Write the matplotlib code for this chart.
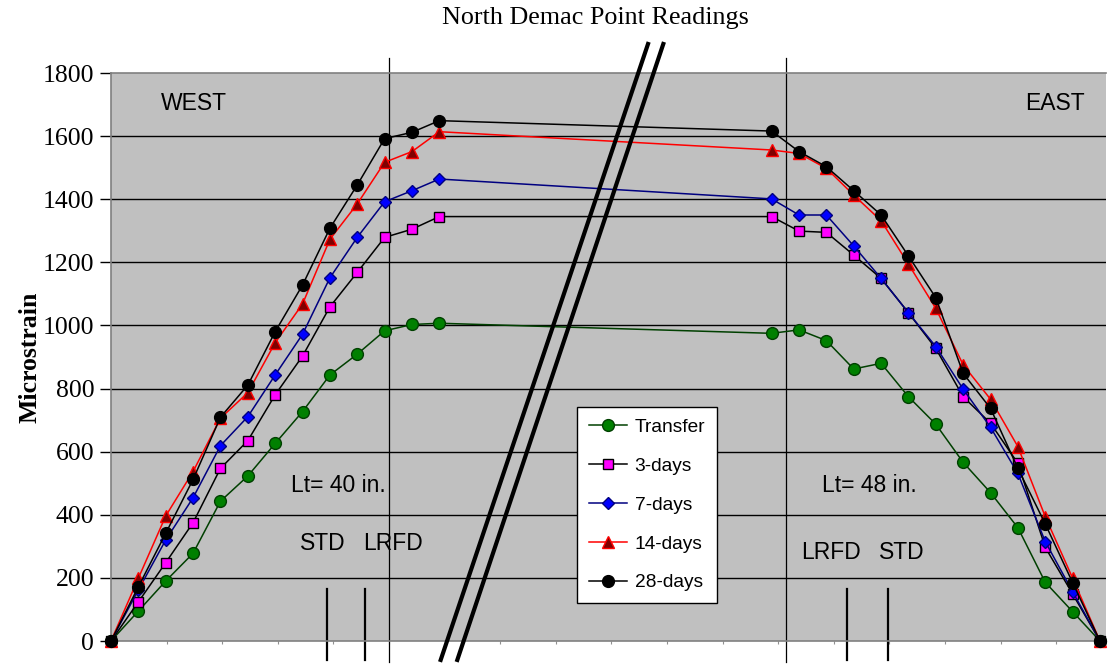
import matplotlib
matplotlib.use("Agg")
import matplotlib.pyplot as plt
import numpy as np

# distance along member (in.)
x_pos = [0.0, 3.94, 7.87, 11.81, 15.75, 19.69, 23.62, 27.56, 31.50, 35.43, 39.37, 43.31, 47.24,
         95.06, 99.00, 102.93, 106.87, 110.81, 114.75, 118.68, 122.62, 126.56, 130.49, 134.43, 138.37, 142.30]

transfer = [0, 95, 190, 278, 443, 523, 626, 727, 843, 909, 983, 1003, 1007,
            975, 986, 952, 862, 880, 774, 687, 566, 470, 359, 186, 93, 0]
days3 = [0, 124, 248, 375, 547, 635, 780, 903, 1059, 1168, 1279, 1305, 1345,
         1345, 1299, 1295, 1223, 1149, 1040, 927, 774, 690, 563, 297, 149, 0]
days7 = [0, 162, 320, 454, 619, 711, 843, 972, 1151, 1279, 1392, 1427, 1464,
         1401, 1350, 1350, 1252, 1149, 1040, 933, 798, 677, 531, 315, 156, 0]
days14 = [0, 199, 396, 537, 706, 787, 945, 1068, 1273, 1385, 1517, 1551, 1614,
          1556, 1545, 1498, 1413, 1332, 1194, 1054, 875, 766, 616, 394, 199, 0]
days28 = [0, 172, 341, 512, 709, 811, 980, 1128, 1308, 1445, 1592, 1612, 1649,
          1616, 1551, 1503, 1427, 1350, 1220, 1088, 848, 737, 547, 371, 185, 0]

labels = ["Transfer", "3-days", "7-days", "14-days", "28-days"]
y_ticks = [0, 200, 400, 600, 800, 1000, 1200, 1400, 1600, 1800]

lt_lines = [40.0, 97.1]
code_lines = [31.1, 36.5, 105.9, 111.8]

fig = plt.figure(figsize=(11.08, 6.68), dpi=100)
W, H = 1108, 668
ax = fig.add_axes([111 / W, (H - 641) / H, (1106 - 111) / W, 568 / H])
ax.set_facecolor("#C0C0C0")
ax.set_xlim(0, 143.17)
ax.set_ylim(0, 1800)

for y in y_ticks[1:-1]:
    ax.axhline(y, color="black", lw=1.0, zorder=1)

styles = [
    dict(color="#004000", marker="o", mfc="#008000", mec="#004000", ms=8.5),
    dict(color="black", marker="s", mfc="#FF00FF", mec="black", ms=7.5),
    dict(color="#000080", marker="D", mfc="#0000FF", mec="#000080", ms=6.5),
    dict(color="#FF0000", marker="^", mfc="#800000", mec="#FF0000", ms=8.5),
    dict(color="black", marker="o", mfc="black", mec="black", ms=8.5),
]
series = [transfer, days3, days7, days14, days28]
for s, lab, st in zip(series, labels, styles):
    ax.plot(x_pos, s, lw=1.1, mew=1.0, label=lab, clip_on=False, zorder=3, **st)

# Lt vertical lines
for xv in lt_lines:
    ax.plot([xv, xv], [1847, -66], color="black", lw=0.9, clip_on=False, zorder=2)
# STD / LRFD markers
for xv in code_lines:
    ax.plot([xv, xv], [165, -60], color="black", lw=1.6, clip_on=False, zorder=2)
# break lines
ax.plot([77.27, 47.44], [1892, -60], color="black", lw=3.0, clip_on=False, zorder=4)
ax.plot([79.47, 49.83], [1892, -60], color="black", lw=3.0, clip_on=False, zorder=4)

ax.set_yticks(y_ticks)
ax.set_yticklabels([str(v) for v in y_ticks], fontfamily="Liberation Serif", fontsize=18.5)
ax.tick_params(axis="y", direction="out", length=8, width=1, color="black", pad=4)
ax.set_xticks(np.arange(0, 143, 8))
ax.set_xticklabels([])
ax.tick_params(axis="x", direction="out", length=2.5, width=0.8, color="#909090")

for sp in ["left", "bottom", "top"]:
    ax.spines[sp].set_color("#808080")
    ax.spines[sp].set_linewidth(1.2)
ax.spines["right"].set_visible(False)

tf = dict(fontfamily="Liberation Sans", fontsize=16.5, ha="center", va="center", zorder=5)
ax.text(11.9, 1702, "WEST", **tf)
ax.text(135.8, 1702, "EAST", **tf)
ax.text(32.7, 494, "Lt= 40 in.", **tf)
ax.text(109.1, 494, "Lt= 48 in.", **tf)
ax.text(30.5, 310, "STD", **tf)
ax.text(40.6, 310, "LRFD", **tf)
ax.text(103.6, 279, "LRFD", **tf)
ax.text(113.8, 279, "STD", **tf)

fig.text(595 / W, 1 - 18 / H, "North Demac Point Readings", fontfamily="Liberation Serif",
         fontsize=18.8, ha="center", va="center")
fig.text(30 / W, 1 - 357 / H, "Microstrain", fontfamily="Liberation Serif", fontweight="bold",
         fontsize=18.5, rotation=90, ha="center", va="center")

leg = ax.legend(loc="upper left", bbox_to_anchor=((577 - 111) / 995, (641 - 407) / 568),
                frameon=True, fancybox=False, edgecolor="black", framealpha=1,
                prop=dict(family="Liberation Sans", size=13.8), labelspacing=1.12,
                handlelength=2.0, handletextpad=0.4, borderpad=0.6, borderaxespad=0)
leg.get_frame().set_linewidth(1.0)
leg.set_zorder(6)

fig.savefig("out.png", dpi=100, facecolor="white")
